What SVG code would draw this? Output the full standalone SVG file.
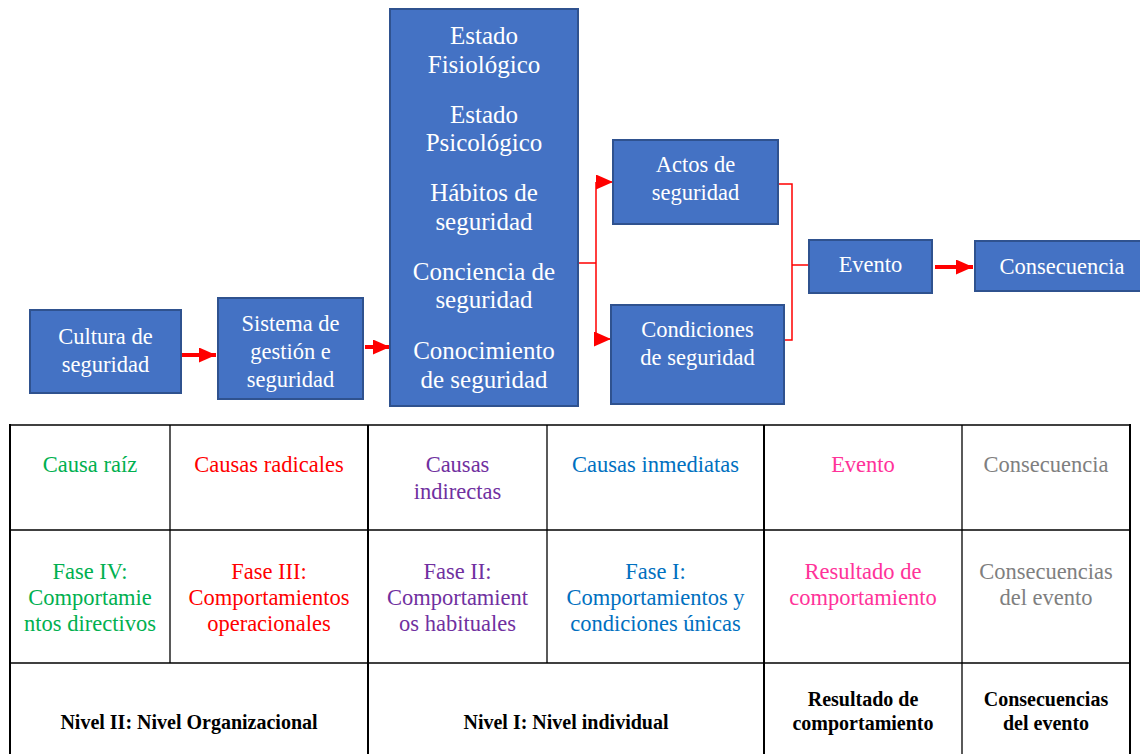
<svg xmlns="http://www.w3.org/2000/svg" width="1140" height="754" viewBox="0 0 1140 754">
<style>
.box{fill:#4472C4;stroke:#2F528F;stroke-width:2}
text{font-family:'Liberation Serif',Tinos,'Times New Roman',Times,'DejaVu Serif',serif}
.bt{font-size:22.5px;fill:#fff;text-anchor:middle}
.bt2{font-size:25px;fill:#fff;text-anchor:middle}
.tt{font-size:22.5px;text-anchor:middle}
.tb{font-size:20px;font-weight:bold;fill:#000;text-anchor:middle}
.thick{stroke:#FF0000;stroke-width:4;fill:none}
.thin{stroke:#FF0000;stroke-width:1.5;fill:none}
.g{fill:#00B050}.r{fill:#FF0000}.p{fill:#7030A0}.b{fill:#0070C0}.k{fill:#FF3399}.gr{fill:#7F7F7F}
.tl{stroke:#000;stroke-width:1.3}
.tl2{stroke:#000;stroke-width:2}
</style>
<defs>
<marker id="ah" markerUnits="userSpaceOnUse" markerWidth="17" markerHeight="15" refX="17" refY="7.5" orient="auto">
<path d="M0,0 L17,7.5 L0,15 z" fill="#FF0000"/>
</marker>
</defs>
<rect width="1140" height="754" fill="#fff"/>

<g id="connectors">
<line class="thick" x1="182" y1="355" x2="216" y2="355" marker-end="url(#ah)"/>
<line class="thick" x1="365" y1="347" x2="390" y2="347" marker-end="url(#ah)"/>
<path class="thin" d="M578,263 H596 M596,182 V339"/>
<line class="thin" x1="596" y1="182" x2="613" y2="182" marker-end="url(#ah)"/>
<line class="thin" x1="596" y1="339" x2="611" y2="339" marker-end="url(#ah)"/>
<path class="thin" d="M778,184 H792 V340 H784 M792,265 H809"/>
<line class="thick" x1="935" y1="267" x2="973" y2="267" marker-end="url(#ah)"/>
</g>

<g id="cultura">
<rect class="box" x="30" y="310" width="151" height="83"/>
<text class="bt" x="105.5" y="344">Cultura de</text>
<text class="bt" x="105.5" y="372">seguridad</text>
</g>
<g id="sistema">
<rect class="box" x="218" y="298" width="145" height="101"/>
<text class="bt" x="290.5" y="331">Sistema de</text>
<text class="bt" x="290.5" y="359">gestión e</text>
<text class="bt" x="290.5" y="387">seguridad</text>
</g>
<g id="estados">
<rect class="box" x="390" y="9" width="188" height="397"/>
<text class="bt2" x="484" y="44">Estado</text>
<text class="bt2" x="484" y="73">Fisiológico</text>
<text class="bt2" x="484" y="123">Estado</text>
<text class="bt2" x="484" y="151">Psicológico</text>
<text class="bt2" x="484" y="201">Hábitos de</text>
<text class="bt2" x="484" y="230">seguridad</text>
<text class="bt2" x="484" y="280">Conciencia de</text>
<text class="bt2" x="484" y="308">seguridad</text>
<text class="bt2" x="484" y="359">Conocimiento</text>
<text class="bt2" x="484" y="388">de seguridad</text>
</g>
<g id="actos">
<rect class="box" x="613" y="140" width="165" height="84"/>
<text class="bt" x="695.5" y="172">Actos de</text>
<text class="bt" x="695.5" y="200">seguridad</text>
</g>
<g id="condiciones">
<rect class="box" x="611" y="305" width="173" height="99"/>
<text class="bt" x="697.5" y="337">Condiciones</text>
<text class="bt" x="697.5" y="365">de seguridad</text>
</g>
<g id="evento">
<rect class="box" x="809" y="240" width="123" height="53"/>
<text class="bt" x="870.5" y="272">Evento</text>
</g>
<g id="consecuencia">
<rect class="box" x="975" y="241" width="170" height="50"/>
<text class="bt" x="1062" y="274">Consecuencia</text>
</g>

<g id="table">
<line class="tl" x1="10" y1="425" x2="1130" y2="425"/>
<line class="tl" x1="10" y1="530" x2="1130" y2="530"/>
<line class="tl" x1="10" y1="663" x2="1130" y2="663"/>
<line class="tl2" x1="10" y1="424" x2="10" y2="754"/>
<line class="tl" x1="170" y1="425" x2="170" y2="663"/>
<line class="tl2" x1="368" y1="425" x2="368" y2="754"/>
<line class="tl" x1="547" y1="425" x2="547" y2="663"/>
<line class="tl2" x1="764" y1="425" x2="764" y2="754"/>
<line class="tl" x1="962" y1="425" x2="962" y2="754"/>
<line class="tl2" x1="1130" y1="424" x2="1130" y2="754"/>

<text class="tt g" x="90" y="472">Causa raíz</text>
<text class="tt r" x="269" y="472">Causas radicales</text>
<text class="tt p" x="457.5" y="472">Causas</text>
<text class="tt p" x="457.5" y="499">indirectas</text>
<text class="tt b" x="655.5" y="472">Causas inmediatas</text>
<text class="tt k" x="863" y="472">Evento</text>
<text class="tt gr" x="1046" y="472">Consecuencia</text>

<text class="tt g" x="90" y="579">Fase IV:</text>
<text class="tt g" x="90" y="605">Comportamie</text>
<text class="tt g" x="90" y="631">ntos directivos</text>
<text class="tt r" x="269" y="579">Fase III:</text>
<text class="tt r" x="269" y="605">Comportamientos</text>
<text class="tt r" x="269" y="631">operacionales</text>
<text class="tt p" x="457.5" y="579">Fase II:</text>
<text class="tt p" x="457.5" y="605">Comportamient</text>
<text class="tt p" x="457.5" y="631">os habituales</text>
<text class="tt b" x="655.5" y="579">Fase I:</text>
<text class="tt b" x="655.5" y="605">Comportamientos y</text>
<text class="tt b" x="655.5" y="631">condiciones únicas</text>
<text class="tt k" x="863" y="579">Resultado de</text>
<text class="tt k" x="863" y="605">comportamiento</text>
<text class="tt gr" x="1046" y="579">Consecuencias</text>
<text class="tt gr" x="1046" y="605">del evento</text>

<text class="tb" x="189" y="729">Nivel II: Nivel Organizacional</text>
<text class="tb" x="566" y="729">Nivel I: Nivel individual</text>
<text class="tb" x="863" y="706">Resultado de</text>
<text class="tb" x="863" y="730">comportamiento</text>
<text class="tb" x="1046" y="706">Consecuencias</text>
<text class="tb" x="1046" y="730">del evento</text>
</g>
</svg>
